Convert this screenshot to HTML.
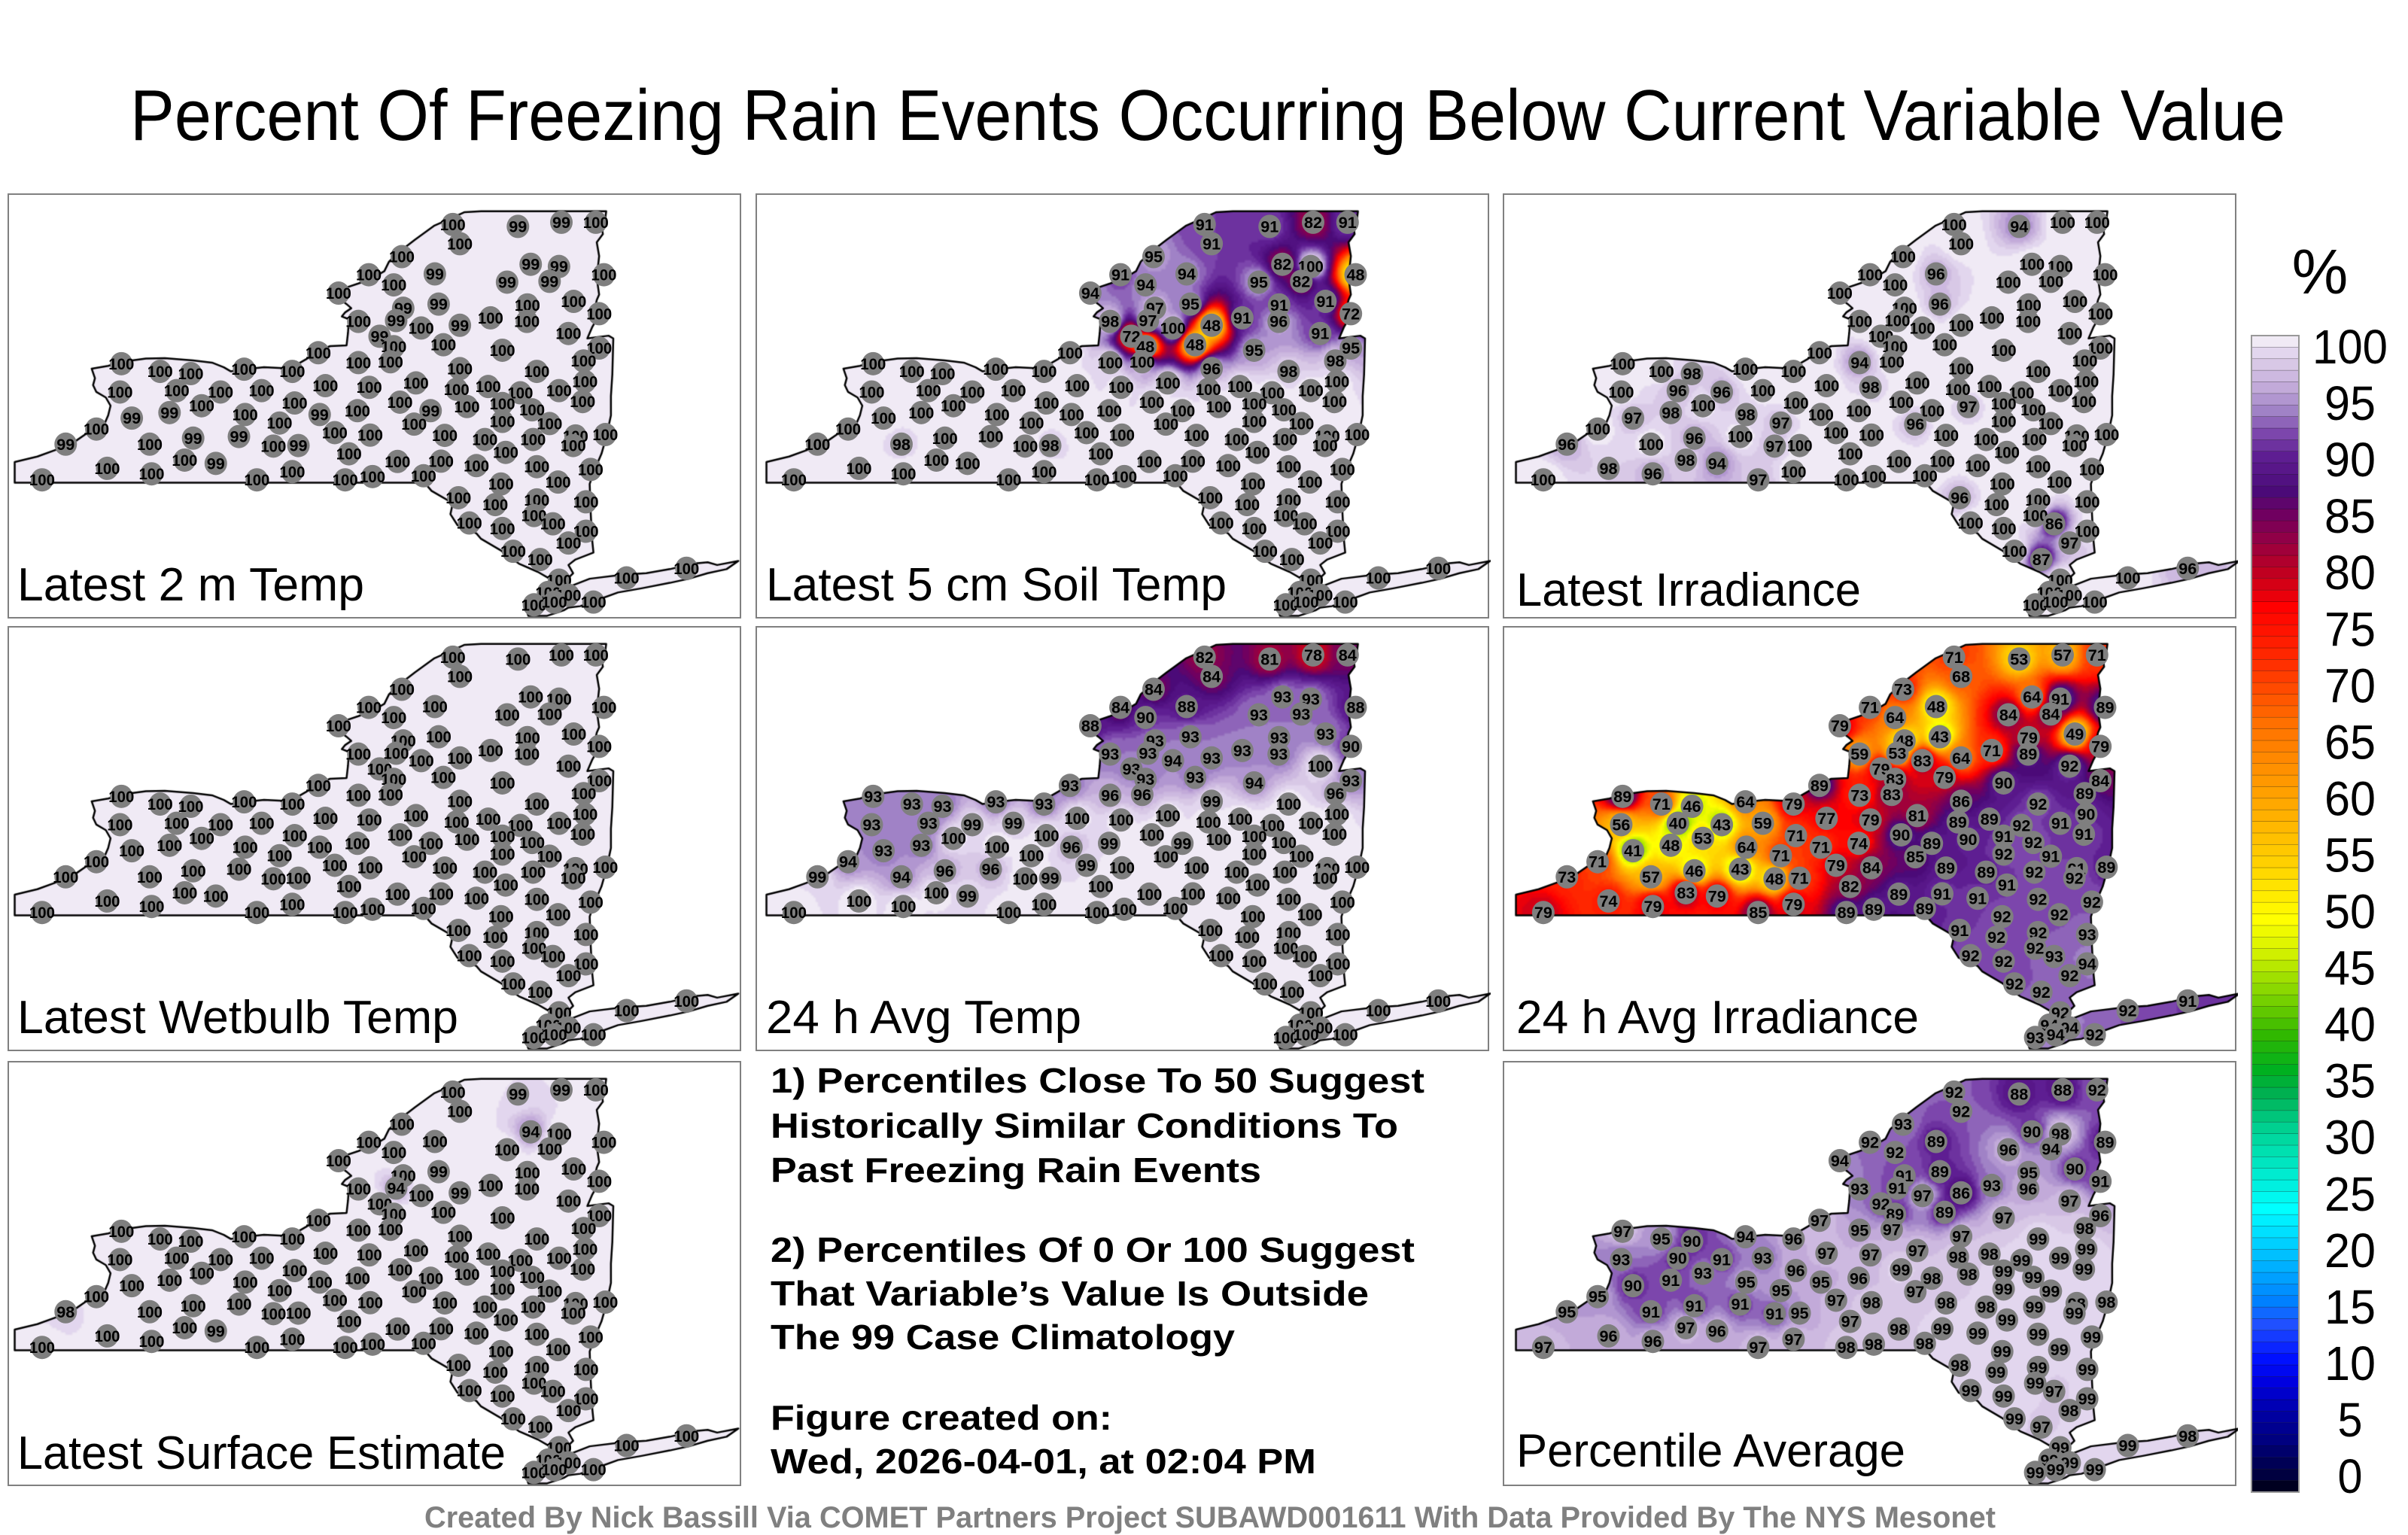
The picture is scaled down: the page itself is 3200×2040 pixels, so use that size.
<!DOCTYPE html>
<html><head><meta charset="utf-8">
<style>
html,body{margin:0;padding:0;background:#fff;}
#root{position:relative;width:3200px;height:2040px;overflow:hidden;background:#fff;font-family:"Liberation Sans",sans-serif;}
.panel{position:absolute;width:975px;height:565px;border:2px solid #808080;box-sizing:border-box;background:#fff;}
.panel canvas,.panel svg{position:absolute;left:0;top:0;}
</style></head>
<body>
<div id="root">
<svg id="deco" width="3200" height="2040" style="position:absolute;left:0;top:0;">
<text x="1605" y="186" font-size="96" text-anchor="middle" textLength="2864" lengthAdjust="spacingAndGlyphs" font-family="Liberation Sans, sans-serif">Percent Of Freezing Rain Events Occurring Below Current Variable Value</text>
<g font-family="Liberation Sans, sans-serif" font-weight="bold" font-size="46">
<text x="1024" y="1452" textLength="869" lengthAdjust="spacingAndGlyphs">1) Percentiles Close To 50 Suggest</text>
<text x="1024" y="1512" textLength="834" lengthAdjust="spacingAndGlyphs">Historically Similar Conditions To</text>
<text x="1024" y="1571" textLength="652" lengthAdjust="spacingAndGlyphs">Past Freezing Rain Events</text>
<text x="1024" y="1677" textLength="856" lengthAdjust="spacingAndGlyphs">2) Percentiles Of 0 Or 100 Suggest</text>
<text x="1024" y="1735" textLength="795" lengthAdjust="spacingAndGlyphs">That Variable’s Value Is Outside</text>
<text x="1024" y="1793" textLength="617" lengthAdjust="spacingAndGlyphs">The 99 Case Climatology</text>
<text x="1024" y="1900" textLength="454" lengthAdjust="spacingAndGlyphs">Figure created on:</text>
<text x="1024" y="1958" textLength="725" lengthAdjust="spacingAndGlyphs">Wed, 2026-04-01, at 02:04 PM</text>
</g>
<text x="1608" y="2030" font-size="40" font-weight="bold" fill="#808080" text-anchor="middle" textLength="2088" lengthAdjust="spacingAndGlyphs" font-family="Liberation Sans, sans-serif">Created By Nick Bassill Via COMET Partners Project SUBAWD001611 With Data Provided By The NYS Mesonet</text>
<text x="3083" y="390" font-size="84" text-anchor="middle" font-family="Liberation Sans, sans-serif">%</text>
<g id="cbar"></g>
</svg>
</div>
<script>
// ---- data ----
const stationLon=[940,1078,1170,1243,955,832,762,902,1105,1165,1055,1145,1260,698,815,910,835,1098,1196,1250,740,820,873,955,1020,1097,1185,785,815,920,1045,1250,655,740,808,1217,238,320,385,498,600,955,1118,1220,235,355,448,535,670,763,862,948,1015,1083,1165,1215,408,605,828,893,970,1045,1108,260,340,500,573,658,738,858,1045,1145,185,120,298,390,487,560,613,690,765,923,1008,1110,1200,1263,1195,1052,720,372,438,823,915,990,1118,1232,208,302,70,525,600,712,770,878,1042,1163,1222,952,1030,1118,1112,975,1045,1152,1222,1185,1068,1125,1165,1142,1185,1112,1155,1238,1308,1435];
const stationLat=[105,112,97,97,175,222,288,285,250,258,315,312,288,355,325,395,410,398,385,430,458,455,482,472,445,458,502,512,550,543,563,555,572,608,605,602,612,640,648,632,640,630,640,677,715,710,715,710,692,698,682,705,695,718,710,750,765,755,752,783,768,757,780,810,790,797,828,797,783,832,822,830,850,905,905,883,877,912,910,863,872,873,888,888,875,870,910,935,940,963,975,968,967,983,987,997,993,1013,1035,1035,1005,1035,1023,1020,1050,1043,1115,1100,1125,1108,1165,1192,1212,1195,1222,1265,1295,1325,1400,1445,1455,1490,1480,1480,1392,1357];
const vals2mTemp=[100,99,99,100,100,100,100,99,99,99,99,99,100,100,100,99,99,100,100,100,100,99,100,99,100,100,100,99,100,100,100,100,100,100,100,100,100,100,100,100,100,100,100,100,100,100,100,100,100,100,100,100,100,100,100,100,100,100,100,99,100,100,100,99,99,100,100,99,100,100,100,100,100,99,100,99,99,100,99,100,100,100,100,100,100,100,100,100,100,100,99,100,100,100,100,100,100,100,100,100,100,100,100,100,100,100,100,100,100,100,100,100,100,100,100,100,100,100,100,100,100,100,100,100,100,100];
const valsSoil=[91,91,82,91,91,95,91,94,82,100,95,82,48,94,94,95,97,91,91,72,98,97,100,48,91,96,91,72,48,48,95,95,100,100,100,98,100,100,100,100,100,96,98,100,100,100,100,100,100,100,100,100,100,100,100,100,100,100,100,100,100,100,100,100,100,100,100,100,100,100,100,100,100,100,98,100,100,100,98,100,100,100,100,100,100,100,100,100,100,100,100,100,100,100,100,100,100,100,100,100,100,100,100,100,100,100,100,100,100,100,100,100,100,100,100,100,100,100,100,100,100,100,100,100,100,100];
const valsIrr=[100,94,100,100,100,100,100,96,100,100,100,100,100,100,100,96,100,100,100,100,100,100,100,100,100,100,100,100,100,100,100,100,100,94,100,100,100,100,98,100,100,100,100,100,100,96,96,100,100,98,100,100,100,100,100,100,100,100,100,100,97,100,100,97,98,98,97,100,100,96,100,100,100,96,100,96,100,97,100,100,100,100,100,100,100,100,100,100,100,98,94,100,100,100,100,100,98,96,100,97,100,100,100,100,100,100,100,96,100,100,100,100,100,86,100,97,100,87,100,100,100,100,100,100,100,96];
const valsWetbulb=[100,100,100,100,100,100,100,100,100,100,100,100,100,100,100,100,100,100,100,100,100,100,100,100,100,100,100,100,100,100,100,100,100,100,100,100,100,100,100,100,100,100,100,100,100,100,100,100,100,100,100,100,100,100,100,100,100,100,100,100,100,100,100,100,100,100,100,100,100,100,100,100,100,100,100,100,100,100,100,100,100,100,100,100,100,100,100,100,100,100,100,100,100,100,100,100,100,100,100,100,100,100,100,100,100,100,100,100,100,100,100,100,100,100,100,100,100,100,100,100,100,100,100,100,100,100];
const vals24Temp=[82,81,78,84,84,84,84,88,93,93,93,93,88,88,90,93,93,93,93,90,93,93,94,93,93,93,100,93,93,93,94,93,93,96,96,96,93,93,93,93,93,99,100,100,93,93,99,99,100,100,100,100,100,100,100,100,100,100,100,99,100,100,100,93,93,100,100,96,99,100,100,100,94,99,94,96,96,100,99,99,100,100,100,100,100,100,100,100,100,100,99,100,100,100,100,100,100,100,100,100,100,100,100,100,100,100,100,100,100,100,100,100,100,100,100,100,100,100,100,100,100,100,100,100,100,100];
const vals24Irr=[71,53,57,71,68,73,71,48,64,91,84,84,89,79,64,43,48,79,49,79,59,53,83,64,71,89,92,79,83,79,90,84,89,73,83,89,89,71,46,64,79,86,92,90,56,40,43,59,77,79,81,89,89,92,91,91,53,71,90,89,90,91,92,41,48,64,71,71,74,85,92,91,71,73,57,46,43,48,71,79,84,89,89,92,91,89,92,91,82,83,79,89,91,91,92,92,74,79,79,85,79,89,89,89,92,92,93,91,92,92,92,92,92,93,94,92,92,92,92,94,94,93,94,92,92,91];
const valsSurface=[100,99,99,100,100,100,100,100,94,100,100,100,100,100,100,99,100,100,100,100,100,94,100,99,100,100,100,100,100,100,100,100,100,100,100,100,100,100,100,100,100,100,100,100,100,100,100,100,100,100,100,100,100,100,100,100,100,100,100,100,100,100,100,100,100,100,100,100,100,100,100,100,100,98,100,100,100,100,100,100,100,100,100,100,100,100,100,100,100,100,99,100,100,100,100,100,100,100,100,100,100,100,100,100,100,100,100,100,100,100,100,100,100,100,100,100,100,100,100,100,100,100,100,100,100,100];
const valsAverage=[92,88,88,92,92,93,92,89,90,98,96,94,89,94,92,89,91,95,90,91,93,91,97,86,93,96,97,92,89,89,97,96,97,95,97,98,97,95,90,94,96,97,99,99,93,90,91,93,97,97,97,98,98,99,99,99,93,96,99,98,98,99,99,90,91,95,95,95,96,97,99,99,95,95,91,91,91,91,95,97,98,98,98,99,98,98,99,99,97,97,96,98,99,99,99,99,96,96,97,97,97,98,98,98,99,99,99,98,99,99,99,99,99,97,99,98,99,97,99,99,99,99,99,99,99,98];
const panelTitles=["Latest 2 m Temp","Latest 5 cm Soil Temp","Latest Irradiance","Latest Wetbulb Temp","24 h Avg Temp","24 h Avg Irradiance","Latest Surface Estimate","Percentile Average"];
const cbarTicks=[0,5,10,15,20,25,30,35,40,45,50,55,60,65,70,75,80,85,90,95,100];
const cmapStops=[[0,"#000000"],[2,"#000040"],[5,"#000080"],[7,"#0000a0"],[10,"#0000e0"],[12,"#0010ff"],[15,"#2050ff"],[17,"#0080ff"],[20,"#00b0ff"],[22,"#00d0ff"],[25,"#00ffff"],[27,"#00f0e0"],[30,"#00e0b0"],[32,"#00d090"],[35,"#00b050"],[37,"#00b020"],[40,"#30b800"],[42,"#60c800"],[45,"#a0e000"],[47,"#d0f000"],[50,"#ffff00"],[55,"#ffd000"],[60,"#ffa800"],[63,"#ff9000"],[67,"#ff7000"],[70,"#ff4a00"],[72,"#ff3000"],[77,"#ff0000"],[80,"#c00020"],[82,"#a0003a"],[85,"#700060"],[87,"#4b0a78"],[90,"#5e1e92"],[92,"#7c46ac"],[94,"#a082c6"],[96,"#c2aad9"],[98,"#d8c8e6"],[99,"#e2d6ee"],[100,"#f0eaf5"]];

// ---- layout ----
const NS="http://www.w3.org/2000/svg";
const PW=975,PH=565;
const panelDefs=[
 {x:10,y:257,dx:0,vals:vals2mTemp,lx:11,ly:539,lw:461,name:"panel-latest-2m-temp"},
 {x:1004,y:257,dx:5,vals:valsSoil,lx:12,ly:539,lw:612,name:"panel-latest-5cm-soil-temp"},
 {x:1997,y:257,dx:8,vals:valsIrr,lx:16,ly:546,lw:458,name:"panel-latest-irradiance"},
 {x:10,y:832,dx:0,vals:valsWetbulb,lx:11,ly:539,lw:586,name:"panel-latest-wetbulb-temp"},
 {x:1004,y:832,dx:5,vals:vals24Temp,lx:12,ly:539,lw:419,name:"panel-24h-avg-temp"},
 {x:1997,y:832,dx:8,vals:vals24Irr,lx:16,ly:539,lw:535,name:"panel-24h-avg-irradiance"},
 {x:10,y:1410,dx:0,vals:valsSurface,lx:11,ly:540,lw:649,name:"panel-latest-surface-estimate"},
 {x:1997,y:1410,dx:8,vals:valsAverage,lx:16,ly:537,lw:517,name:"panel-percentile-average"}
];
const mainland=[[12,1045],[12,970],[60,950],[100,925],[140,895],[165,865],[200,840],[210,800],[215,765],[205,735],[185,715],[178,690],[182,665],[175,630],[210,620],[240,605],[290,593],[330,592],[390,600],[430,608],[455,625],[470,640],[500,632],[540,625],[580,628],[610,615],[630,595],[650,570],[680,548],[715,545],[718,500],[720,450],[705,440],[712,425],[725,410],[715,395],[700,375],[705,340],[740,320],[770,300],[795,275],[805,240],[830,200],[860,160],[900,110],[940,80],[965,60],[1000,57],[1265,57],[1262,95],[1255,110],[1258,140],[1245,170],[1250,220],[1245,300],[1250,360],[1245,380],[1240,420],[1245,450],[1235,480],[1225,520],[1270,510],[1280,520],[1278,650],[1275,730],[1275,800],[1265,880],[1255,940],[1240,1000],[1230,1050],[1232,1150],[1235,1250],[1238,1300],[1200,1325],[1185,1345],[1195,1375],[1180,1400],[1185,1425],[1230,1395],[1300,1380],[1350,1375],[1400,1360],[1450,1340],[1480,1335],[1500,1345],[1545,1330],[1520,1360],[1480,1375],[1440,1395],[1400,1410],[1340,1430],[1290,1445],[1250,1470],[1210,1495],[1185,1500],[1175,1510],[1140,1530],[1100,1530],[1095,1500],[1125,1470],[1150,1440],[1150,1400],[1120,1370],[1080,1340],[1040,1290],[1000,1250],[990,1230],[950,1200],[935,1160],[940,1120],[915,1095],[895,1075],[880,1045]];
function mx(zx,d){return zx/1.594+d.dx;}
function my(zy){return zy/2.74+1;}
function hex(c){return [parseInt(c.substr(1,2),16),parseInt(c.substr(3,2),16),parseInt(c.substr(5,2),16)];}
const stopsRGB=cmapStops.map(s=>[s[0],hex(s[1])]);
function cmap(v){
  if(v<=0)return stopsRGB[0][1];
  for(let i=1;i<stopsRGB.length;i++){
    if(v<=stopsRGB[i][0]){const a=stopsRGB[i-1],b=stopsRGB[i];const t=(v-a[0])/(b[0]-a[0]);
      return [0,1,2].map(k=>Math.round(a[1][k]+(b[1][k]-a[1][k])*t));}
  }
  return stopsRGB[stopsRGB.length-1][1];
}
const root=document.getElementById('root');
panelDefs.forEach((d,pi)=>{
  const div=document.createElement('div');
  div.className='panel';div.style.left=d.x+'px';div.style.top=d.y+'px';
  
  
  root.appendChild(div);
  const cv=document.createElement('canvas');cv.width=PW;cv.height=PH;
  
  
  div.appendChild(cv);
  const ctx=cv.getContext('2d');
  const sx=stationLon.map(z=>mx(z,d)), sy=stationLat.map(z=>my(z));
  const S=3,lw=Math.ceil(PW/S),lh=Math.ceil(PH/S);
  const low=document.createElement('canvas');low.width=lw;low.height=lh;
  const lc=low.getContext('2d');const img=lc.createImageData(lw,lh);
  for(let j=0;j<lh;j++){for(let i=0;i<lw;i++){
    const px=i*S+1.5,py=j*S+1.5;let num=0,den=0,hit=-1;
    for(let k=0;k<sx.length;k++){const ddx=px-sx[k],ddy=py-sy[k];const r2=ddx*ddx+ddy*ddy;
      if(r2<1){hit=k;break;}const w=1/(r2*Math.sqrt(r2));num+=w*d.vals[k];den+=w;}
    let v=hit>=0?d.vals[hit]:num/den;v=Math.ceil(v);
    const c=cmap(v);const o=(j*lw+i)*4;img.data[o]=c[0];img.data[o+1]=c[1];img.data[o+2]=c[2];img.data[o+3]=255;}}
  lc.putImageData(img,0,0);
  const path=new Path2D();
  mainland.forEach((p,i)=>{const X=mx(p[0],d),Y=my(p[1]);if(i==0)path.moveTo(X,Y);else path.lineTo(X,Y);});
  path.closePath();
  ctx.save();ctx.clip(path);ctx.imageSmoothingEnabled=true;ctx.drawImage(low,0,0,PW,PH);ctx.restore();
  ctx.lineWidth=2.5;ctx.strokeStyle='#000';ctx.lineJoin='round';ctx.stroke(path);
  const svg=document.createElementNS(NS,'svg');svg.setAttribute('width',PW);svg.setAttribute('height',PH);
  
  
  div.appendChild(svg);
  for(let k=0;k<sx.length;k++){
    const g=document.createElementNS(NS,'g');
    
    
    const c=document.createElementNS(NS,'ellipse');
    c.setAttribute('cx',sx[k]);c.setAttribute('cy',sy[k]);c.setAttribute('rx',15);c.setAttribute('ry',15.5);c.setAttribute('fill','#7f7f7f');
    
    
    const t=document.createElementNS(NS,'text');
    const s=String(d.vals[k]);
    t.setAttribute('x',sx[k]);t.setAttribute('y',sy[k]+7.5);t.setAttribute('text-anchor','middle');
    t.setAttribute('font-size','21');t.setAttribute('font-weight','bold');t.setAttribute('font-family','Liberation Sans, sans-serif');
    t.setAttribute('textLength',s.length==3?34:24);t.setAttribute('lengthAdjust','spacingAndGlyphs');
    t.textContent=s;
    
    
    g.appendChild(c);g.appendChild(t);svg.appendChild(g);
  }
  const lab=document.createElementNS(NS,'text');
  lab.setAttribute('x',d.lx);lab.setAttribute('y',d.ly);lab.setAttribute('font-size','62');
  lab.setAttribute('font-family','Liberation Sans, sans-serif');lab.setAttribute('textLength',d.lw);lab.setAttribute('lengthAdjust','spacingAndGlyphs');
  lab.textContent=panelTitles[pi];
  
  
  svg.appendChild(lab);
});
const cb=document.getElementById('cbar');
const cbTop=446,cbBot=1983,cbX=2992,cbW=63;
function cbY(v){return cbBot-(cbBot-cbTop)*v/100;}
for(let v=0;v<100;v++){
  const r=document.createElementNS(NS,'rect');const c=cmap(v+1);
  r.setAttribute('x',cbX);r.setAttribute('y',cbY(v+1));r.setAttribute('width',cbW);r.setAttribute('height',cbY(v)-cbY(v+1));
  r.setAttribute('fill','rgb('+c.join(',')+')');r.setAttribute('stroke','rgba(0,0,0,0.35)');r.setAttribute('stroke-width','0.6');
  
  
  cb.appendChild(r);
}
const ol=document.createElementNS(NS,'rect');
ol.setAttribute('x',cbX);ol.setAttribute('y',cbTop);ol.setAttribute('width',cbW);ol.setAttribute('height',cbBot-cbTop);ol.setAttribute('fill','none');ol.setAttribute('stroke','#999');ol.setAttribute('stroke-width','2');


cb.appendChild(ol);
cbarTicks.forEach(v=>{
  const t=document.createElementNS(NS,'text');const s=String(v);
  const y=460+(1961-460)*(100-v)/100+23;
  t.setAttribute('x',3123);t.setAttribute('y',y);t.setAttribute('text-anchor','middle');t.setAttribute('font-size','64');
  t.setAttribute('font-family','Liberation Sans, sans-serif');
  t.setAttribute('textLength',s.length==3?100:(s.length==2?68:33));t.setAttribute('lengthAdjust','spacingAndGlyphs');
  t.textContent=s;
  
  
  cb.appendChild(t);
});
</script>
</body></html>
